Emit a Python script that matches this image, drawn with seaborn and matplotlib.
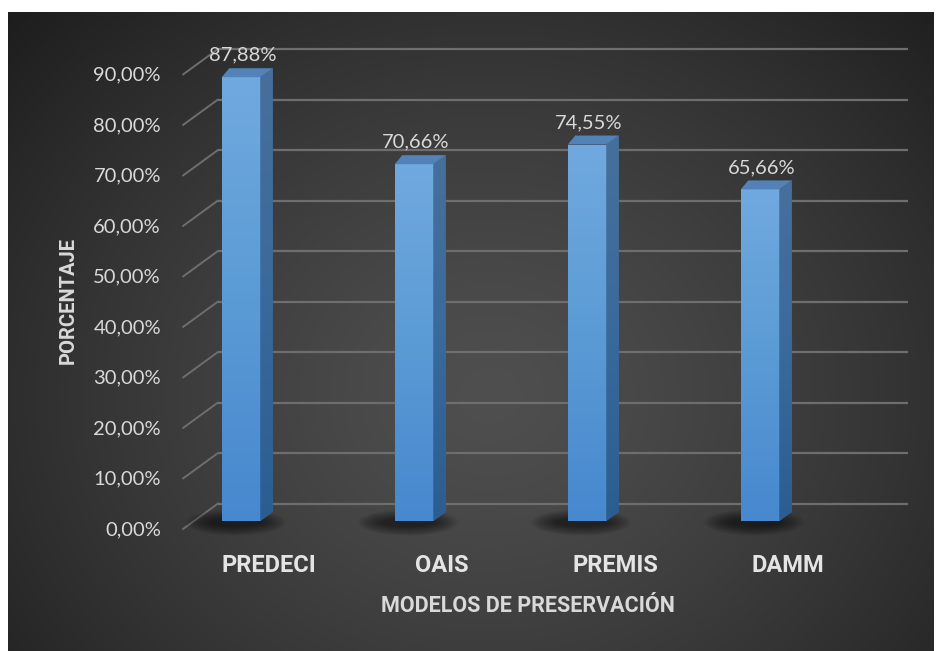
import numpy as np
import pandas as pd
import matplotlib
matplotlib.use("Agg")
import matplotlib.pyplot as plt
from matplotlib.patches import Polygon, Ellipse
import seaborn as sns

# ---------------- data ----------------
categories = ["PREDECI", "OAIS", "PREMIS", "DAMM"]
values = [87.88, 70.66, 74.55, 65.66]
value_labels = ["87,88%", "70,66%", "74,55%", "65,66%"]
tick_values = [0, 10, 20, 30, 40, 50, 60, 70, 80, 90]
tick_labels = ["0,00%", "10,00%", "20,00%", "30,00%", "40,00%",
               "50,00%", "60,00%", "70,00%", "80,00%", "90,00%"]
x_title = "MODELOS DE PRESERVACIÓN"
y_title = "PORCENTAJE"

# ---------------- layout helpers ----------------
W, H = 939, 651
PX_X = 173.0      # pixels per category step
PX_Y = 5.05       # pixels per percent
FONT = ["Lato", "DejaVu Sans"]
BFONT = ["Roboto", "DejaVu Sans"]
TXT = "#d9d9d9"

sns.set_theme(style="white")
plt.rcParams["font.family"] = FONT

fig = plt.figure(figsize=(W / 100, H / 100), dpi=100, facecolor="white")

# background panel with radial gradient
bg = fig.add_axes([8 / W, 0, (934 - 8) / W, (H - 12) / H])
bg.set_axis_off()
ny, nx = 320, 460
yy, xx = np.mgrid[0:1:ny * 1j, 0:1:nx * 1j]
r = np.sqrt(((xx - 0.52) / 0.72) ** 2 + ((yy - 0.60) / 0.90) ** 2)
r = np.clip(r, 0, 1)
lv = (0x4f - (0x4f - 0x1c) * r ** 1.3) / 255.0
img = np.dstack([lv, lv, lv])
bg.imshow(img, aspect="auto", extent=[0, 1, 0, 1], origin="upper")
bg.set_xlim(0, 1)
bg.set_ylim(0, 1)

# main axes: pixels 150..930 horizontally, 20..540 vertically
ax = fig.add_axes([150 / W, 1 - 540 / H, 780 / W, 520 / H])
ax.patch.set_alpha(0)

df = pd.DataFrame({"cat": categories, "val": values})
bar_w = 38.5 / PX_X
sns.barplot(data=df, x="cat", y="val", order=categories, width=bar_w,
            color="#5b9bd5", saturation=1, ax=ax, zorder=3, errorbar=None,
            linewidth=0, edgecolor="none")

dx = 12.5 / PX_X
dy = 9.0 / PX_Y

# gridlines (back wall + diagonal to front)
back_off = 17.5 / PX_Y
front_off = -8.0 / PX_Y
xb0 = (218 - 241) / PX_X
xb1 = (908 - 241) / PX_X
xf = (183 - 241) / PX_X
for v, lab in zip(tick_values, tick_labels):
    ax.plot([xb0, xb1], [v + back_off] * 2, color="#6e6e6e", lw=1.6,
            zorder=1, solid_capstyle="butt")
    ax.plot([xf, xb0], [v + front_off, v + back_off], color="#6e6e6e",
            lw=1.4, zorder=1)
    ax.text((161 - 241) / PX_X, v - 1.7, lab, ha="right", va="center",
            color=TXT, fontsize=14.5, family=FONT)

grad_front = np.linspace(0, 1, 100).reshape(-1, 1)
front_cmap = matplotlib.colors.LinearSegmentedColormap.from_list(
    "front", ["#4788cf", "#5b9bd5", "#70a9df"])
side_cmap = matplotlib.colors.LinearSegmentedColormap.from_list(
    "side", ["#2c5d91", "#3a6a9c", "#476f9b"])

for p, v, lab in zip(ax.patches, values, value_labels):
    x0 = p.get_x()
    w = p.get_width()
    h = p.get_height()
    x1 = x0 + w
    # soft shadow (stack of faint ellipses)
    for k in range(12):
        f = 1 - k / 12
        ax.add_patch(Ellipse((x0 + w * 0.35, -0.3), w * (1.2 + 1.4 * f),
                             1.2 + 4.0 * f, color="black", alpha=0.05,
                             lw=0, zorder=2))
    # front gradient clipped to bar
    im = ax.imshow(grad_front, extent=[x0, x1, 0, h], origin="lower",
                   aspect="auto", cmap=front_cmap, zorder=3.1)
    im.set_clip_path(p)
    # side face
    side = Polygon([(x1, 0), (x1 + dx, dy), (x1 + dx, h + dy), (x1, h)],
                   closed=True, facecolor="#3a6a9c", edgecolor="none",
                   zorder=3)
    ax.add_patch(side)
    ims = ax.imshow(grad_front, extent=[x1, x1 + dx, 0, h + dy],
                    origin="lower", aspect="auto", cmap=side_cmap, zorder=3.1)
    ims.set_clip_path(side)
    # top face
    top = Polygon([(x0, h), (x0 + dx * 0.6, h + dy), (x1 + dx, h + dy),
                   (x1, h)], closed=True, facecolor="#5282b8",
                  edgecolor="none", zorder=3.2)
    ax.add_patch(top)
    # value label
    ax.text(x0 + w / 2 + 0.01, v + 22 / PX_Y, lab, ha="center",
            va="center", color=TXT, fontsize=14.5, family=FONT, zorder=5)

# category labels
for i, c in enumerate(categories):
    ax.text(i + 28 / PX_X, (521 - 565) / PX_Y, c, ha="center", va="center",
            color="#e4e4e4", fontsize=17, fontweight="bold", family=BFONT,
            clip_on=False)

ax.set_xlim((150 - 241) / PX_X, (930 - 241) / PX_X)
ax.set_ylim((521 - 540) / PX_Y, (521 - 20) / PX_Y)
ax.set_xticks([])
ax.set_yticks([])
ax.set_xlabel("")
ax.set_ylabel("")
for s in ax.spines.values():
    s.set_visible(False)

fig.text(528 / W, 1 - 606 / H, x_title, ha="center", va="center",
         color=TXT, fontsize=15.5, fontweight="bold", family=BFONT)
fig.text(68 / W, 1 - 300 / H, y_title, ha="center", va="center",
         rotation=90, color=TXT, fontsize=14.5, fontweight="bold",
         family=BFONT)

fig.savefig("out.png", dpi=100, facecolor="white")
